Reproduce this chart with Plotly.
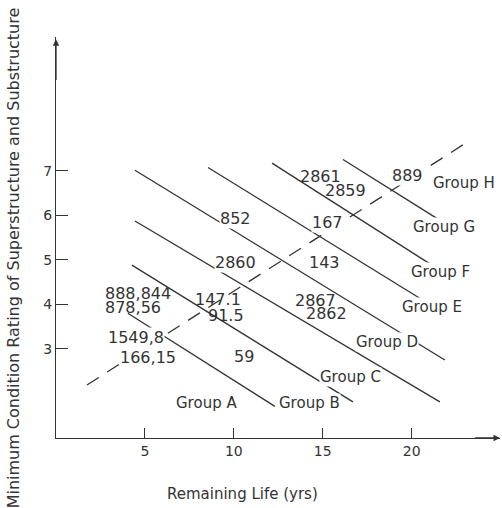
import plotly.graph_objects as go

# ---- data -------------------------------------------------------------
# Group boundary lines (remaining life in yrs, condition rating)
boundary_x0 = [4.04, 4.27, 4.44, 4.44, 8.55, 12.15, 16.14]
boundary_y0 = [3.80, 4.88, 5.87, 7.01, 7.07, 7.17, 7.25]
boundary_x1 = [12.31, 16.70, 21.59, 21.87, 20.64, 21.14, 21.42]
boundary_y1 = [1.71, 1.81, 1.81, 2.75, 4.09, 4.88, 5.93]

# dashed trend line
trend_x = [1.74, 23.28]
trend_y = [2.19, 7.68]

# bridge id labels
id_text = ["852", "2860", "888,844", "878,56", "147.1", "91.5", "1549,8",
           "166,15", "59", "889", "2861", "2859", "167", "143", "2867", "2862"]
id_x = [10.12, 10.07, 4.61, 4.33, 9.11, 9.56, 4.49,
        5.17, 10.57, 19.74, 14.90, 16.30, 15.29, 15.12, 14.62, 15.24]
id_y = [5.93, 4.93, 4.25, 3.92, 4.10, 3.76, 3.25,
        2.80, 2.82, 6.90, 6.87, 6.56, 5.84, 4.94, 4.09, 3.80]

# group labels
group_text = ["Group A", "Group B", "Group C", "Group D",
              "Group E", "Group F", "Group G", "Group H"]
group_x = [8.49, 14.23, 16.54, 18.61, 21.14, 21.65, 21.82, 22.94]
group_y = [1.79, 1.79, 2.37, 3.15, 3.94, 4.72, 5.73, 6.72]

x_ticks = [5, 10, 15, 20]
x_tick_labels = ["5", "10", "15", "20"]
y_ticks = [3, 4, 5, 6, 7]
y_tick_labels = ["3", "4", "5", "6", "7"]

x_title = "Remaining Life (yrs)"
y_title = "Minimum Condition Rating of Superstructure and Substructure"

# labels that are stacked tightly in pairs: drawn without a white box
stacked = {"888,844", "878,56", "147.1", "91.5", "2867", "2862", "2861", "2859"}

# ---- figure -----------------------------------------------------------
INK = "#333333"
FONT = "DejaVu Sans"
X_MAX = 24.97
Y_MIN, Y_MAX = 1.0, 10.0

fig = go.Figure()

for x0, y0, x1, y1 in zip(boundary_x0, boundary_y0, boundary_x1, boundary_y1):
    fig.add_trace(go.Scatter(x=[x0, x1], y=[y0, y1], mode="lines",
                             line=dict(color=INK, width=1.3),
                             hoverinfo="skip", showlegend=False))

fig.add_trace(go.Scatter(x=trend_x, y=trend_y, mode="lines",
                         line=dict(color=INK, width=1.3, dash="14px,10px"),
                         hoverinfo="skip", showlegend=False))

annotations = []
for t, x, y in zip(id_text, id_x, id_y):
    annotations.append(dict(x=x, y=y, xref="x", yref="y", text=t,
                            showarrow=False,
                            bgcolor="rgba(0,0,0,0)" if t in stacked else "white",
                            borderpad=0,
                            font=dict(family=FONT, size=16, color=INK)))
for t, x, y in zip(group_text, group_x, group_y):
    annotations.append(dict(x=x, y=y, xref="x", yref="y", text=t,
                            showarrow=False, bgcolor="white", borderpad=0,
                            font=dict(family=FONT, size=15, color=INK)))

# axis arrowheads
annotations.append(dict(x=X_MAX, y=Y_MIN, ax=X_MAX - 1.5, ay=Y_MIN,
                        xref="x", yref="y", axref="x", ayref="y",
                        showarrow=True, arrowhead=2, arrowsize=1,
                        arrowwidth=1.3, arrowcolor=INK, text=""))
annotations.append(dict(x=0, y=Y_MAX - 0.05, ax=0, ay=Y_MAX - 1.0,
                        xref="x", yref="y", axref="x", ayref="y",
                        showarrow=True, arrowhead=2, arrowsize=1,
                        arrowwidth=1.3, arrowcolor=INK, text=""))

# axis titles
annotations.append(dict(x=0.421, y=-0.14, xref="paper", yref="paper",
                        xanchor="center", yanchor="middle",
                        text=x_title, showarrow=False,
                        font=dict(family=FONT, size=15, color=INK)))
annotations.append(dict(x=-0.095, y=0.45, xref="paper", yref="paper",
                        xanchor="center", yanchor="middle",
                        text=y_title, showarrow=False, textangle=-90,
                        font=dict(family=FONT, size=16, color=INK)))

fig.update_layout(
    width=502, height=508,
    margin=dict(l=56, r=2, t=37, b=70, pad=0),
    paper_bgcolor="white", plot_bgcolor="white",
    annotations=annotations,
    xaxis=dict(range=[0, X_MAX], showgrid=False, zeroline=False,
               showline=True, linecolor=INK, linewidth=1.3,
               ticks="inside", ticklen=10, tickwidth=1.3, tickcolor=INK,
               tickvals=x_ticks, ticktext=x_tick_labels,
               tickfont=dict(family=FONT, size=14, color=INK)),
    yaxis=dict(range=[Y_MIN, Y_MAX], showgrid=False, zeroline=False,
               showline=True, linecolor=INK, linewidth=1.3,
               ticks="inside", ticklen=12, tickwidth=1.3, tickcolor=INK,
               tickvals=y_ticks, ticktext=y_tick_labels,
               tickfont=dict(family=FONT, size=14, color=INK)),
)

fig.write_html("out.html")
